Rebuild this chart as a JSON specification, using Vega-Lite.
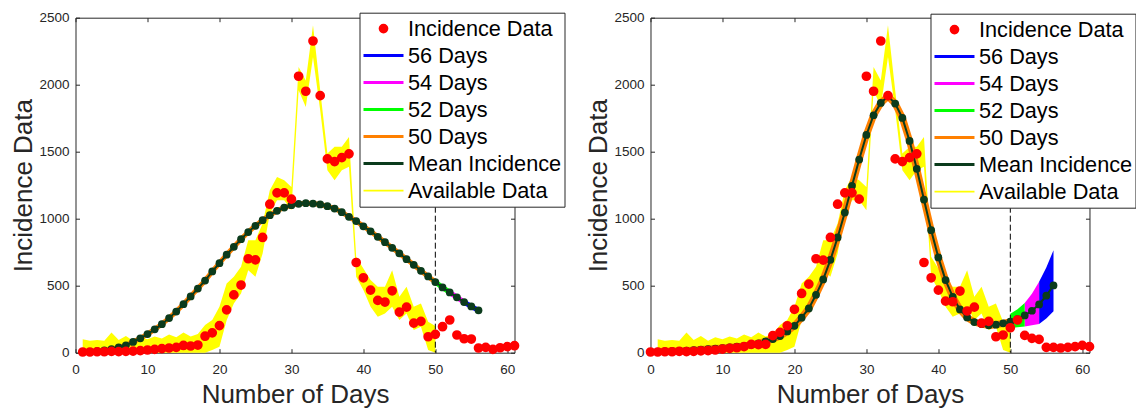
{
  "$schema": "https://vega.github.io/schema/vega-lite/v6.json",
  "autosize": {"type": "pad"},
  "padding": {"left": 9.5, "top": 9.7, "right": 0, "bottom": 0},
  "background": "white",
  "bounds": "flush",
  "spacing": 136,
  "config": {
    "font": "Liberation Sans",
    "view": {"stroke": "#262626", "strokeWidth": 1},
    "axis": {
      "grid": false, "domain": false, "tickSize": -4, "tickColor": "#262626", "tickWidth": 1,
      "labelColor": "#262626", "labelFontSize": 13.5, "labelFont": "Liberation Sans",
      "titleFont": "Liberation Sans", "titleFontSize": 26, "titleFontWeight": "normal", "titleColor": "#262626",
      "labelFlush": false
    }
  },
  "datasets": {
    "redL": [
      {"day":1,"value":5},{"day":2,"value":5},{"day":3,"value":7},{"day":4,"value":7},{"day":5,"value":10},{"day":6,"value":8},{"day":7,"value":10},{"day":8,"value":12},{"day":9,"value":15},{"day":10,"value":20},
      {"day":11,"value":25},{"day":12,"value":30},{"day":13,"value":35},{"day":14,"value":40},{"day":15,"value":54},{"day":16,"value":50},{"day":17,"value":57},{"day":18,"value":123},{"day":19,"value":148},{"day":20,"value":202},
      {"day":21,"value":320},{"day":22,"value":431},{"day":23,"value":505},{"day":24,"value":701},{"day":25,"value":693},{"day":26,"value":860},{"day":27,"value":1108},{"day":28,"value":1193},{"day":29,"value":1193},{"day":30,"value":1146},
      {"day":31,"value":2063},{"day":32,"value":1951},{"day":33,"value":2326},{"day":34,"value":1918},{"day":35,"value":1446},{"day":36,"value":1426},{"day":37,"value":1456},{"day":38,"value":1484},{"day":39,"value":673},{"day":40,"value":559},
      {"day":41,"value":467},{"day":42,"value":390},{"day":43,"value":378},{"day":44,"value":462},{"day":45,"value":303},{"day":46,"value":340},{"day":47,"value":221},{"day":48,"value":234},{"day":49,"value":119},{"day":50,"value":137},
      {"day":51,"value":194},{"day":52,"value":244},{"day":53,"value":132},{"day":54,"value":104},{"day":55,"value":102},{"day":56,"value":35},{"day":57,"value":40},{"day":58,"value":25},{"day":59,"value":37},{"day":60,"value":45},{"day":61,"value":52}
    ],
    "redR": [
      {"day":0,"value":5},{"day":1,"value":5},{"day":2,"value":7},{"day":3,"value":7},{"day":4,"value":10},{"day":5,"value":8},{"day":6,"value":10},{"day":7,"value":14},{"day":8,"value":16},{"day":9,"value":20},
      {"day":10,"value":27},{"day":11,"value":32},{"day":12,"value":37},{"day":13,"value":45},{"day":14,"value":62},{"day":15,"value":60},{"day":16,"value":62},{"day":17,"value":127},{"day":18,"value":152},{"day":19,"value":201},
      {"day":20,"value":323},{"day":21,"value":442},{"day":22,"value":512},{"day":23,"value":701},{"day":24,"value":691},{"day":25,"value":860},{"day":26,"value":1108},{"day":27,"value":1193},{"day":28,"value":1193},{"day":29,"value":1146},
      {"day":30,"value":2063},{"day":31,"value":1951},{"day":32,"value":2326},{"day":33,"value":1918},{"day":34,"value":1446},{"day":35,"value":1426},{"day":36,"value":1456},{"day":37,"value":1484},{"day":38,"value":673},{"day":39,"value":559},
      {"day":40,"value":467},{"day":41,"value":385},{"day":42,"value":380},{"day":43,"value":460},{"day":44,"value":311},{"day":45,"value":340},{"day":46,"value":221},{"day":47,"value":234},{"day":48,"value":119},{"day":49,"value":132},
      {"day":50,"value":186},{"day":51,"value":244},{"day":52,"value":129},{"day":53,"value":107},{"day":54,"value":99},{"day":55,"value":40},{"day":56,"value":40},{"day":57,"value":35},{"day":58,"value":40},{"day":59,"value":45},{"day":60,"value":55},{"day":61,"value":45}
    ],
    "meanL": [
      {"day":1,"value":5},{"day":2,"value":7},{"day":3,"value":12},{"day":4,"value":18},{"day":5,"value":27},{"day":6,"value":40},{"day":7,"value":55},{"day":8,"value":80},{"day":9,"value":107},{"day":10,"value":139},
      {"day":11,"value":174},{"day":12,"value":213},{"day":13,"value":258},{"day":14,"value":307},{"day":15,"value":362},{"day":16,"value":420},{"day":17,"value":479},{"day":18,"value":538},{"day":19,"value":606},{"day":20,"value":668},
      {"day":21,"value":731},{"day":22,"value":790},{"day":23,"value":847},{"day":24,"value":900},{"day":25,"value":947},{"day":26,"value":989},{"day":27,"value":1026},{"day":28,"value":1059},{"day":29,"value":1083},{"day":30,"value":1101},
      {"day":31,"value":1111},{"day":32,"value":1116},{"day":33,"value":1113},{"day":34,"value":1106},{"day":35,"value":1093},{"day":36,"value":1076},{"day":37,"value":1049},{"day":38,"value":1014},{"day":39,"value":982},{"day":40,"value":943},
      {"day":41,"value":906},{"day":42,"value":865},{"day":43,"value":825},{"day":44,"value":783},{"day":45,"value":741},{"day":46,"value":698},{"day":47,"value":656},{"day":48,"value":611},{"day":49,"value":569},{"day":50,"value":527},
      {"day":51,"value":487},{"day":52,"value":450},{"day":53,"value":413},{"day":54,"value":378},{"day":55,"value":345},{"day":56,"value":316}
    ],
    "meanR": [
      {"day":1,"value":8},{"day":2,"value":10},{"day":3,"value":12},{"day":4,"value":14},{"day":5,"value":16},{"day":6,"value":19},{"day":7,"value":23},{"day":8,"value":27},{"day":9,"value":31},{"day":10,"value":35},
      {"day":11,"value":40},{"day":12,"value":45},{"day":13,"value":51},{"day":14,"value":59},{"day":15,"value":70},{"day":16,"value":85},{"day":17,"value":102},{"day":18,"value":124},{"day":19,"value":159},{"day":20,"value":201},
      {"day":21,"value":261},{"day":22,"value":330},{"day":23,"value":432},{"day":24,"value":547},{"day":25,"value":693},{"day":26,"value":860},{"day":27,"value":1046},{"day":28,"value":1245},{"day":29,"value":1441},{"day":30,"value":1625},
      {"day":31,"value":1772},{"day":32,"value":1864},{"day":33,"value":1913},{"day":34,"value":1859},{"day":35,"value":1752},{"day":36,"value":1580},{"day":37,"value":1372},{"day":38,"value":1143},{"day":39,"value":914},{"day":40,"value":711},
      {"day":41,"value":542},{"day":42,"value":417},{"day":43,"value":323},{"day":44,"value":263},{"day":45,"value":229},{"day":46,"value":214},{"day":47,"value":204},{"day":48,"value":209},{"day":49,"value":219},{"day":50,"value":231},
      {"day":51,"value":251},{"day":52,"value":278},{"day":53,"value":313},{"day":54,"value":360},{"day":55,"value":425},{"day":56,"value":502}
    ],
    "yellow": [
      {"day":1,"lo":0,"hi":100},{"day":2,"lo":0,"hi":90},{"day":3,"lo":0,"hi":95},{"day":4,"lo":0,"hi":90},{"day":5,"lo":0,"hi":150},{"day":6,"lo":0,"hi":95},{"day":7,"lo":0,"hi":125},{"day":8,"lo":0,"hi":90},{"day":9,"lo":0,"hi":115},{"day":10,"lo":0,"hi":100},
      {"day":11,"lo":0,"hi":120},{"day":12,"lo":0,"hi":105},{"day":13,"lo":0,"hi":135},{"day":14,"lo":0,"hi":115},{"day":15,"lo":0,"hi":150},{"day":16,"lo":0,"hi":120},{"day":17,"lo":0,"hi":140},{"day":18,"lo":0,"hi":206},{"day":19,"lo":20,"hi":244},{"day":20,"lo":45,"hi":343},
      {"day":21,"lo":243,"hi":517},{"day":22,"lo":368,"hi":567},{"day":23,"lo":442,"hi":641},{"day":24,"lo":616,"hi":840},{"day":25,"lo":566,"hi":840},{"day":26,"lo":740,"hi":964},{"day":27,"lo":1039,"hi":1213},{"day":28,"lo":1138,"hi":1312},{"day":29,"lo":1138,"hi":1287},{"day":30,"lo":1063,"hi":1237},
      {"day":31,"lo":1958,"hi":2132},{"day":32,"lo":1834,"hi":2032},{"day":33,"lo":2207,"hi":2443},{"day":34,"lo":1809,"hi":1958},{"day":35,"lo":1362,"hi":1486},{"day":36,"lo":1287,"hi":1536},{"day":37,"lo":1362,"hi":1536},{"day":38,"lo":1387,"hi":1610},{"day":39,"lo":567,"hi":716},{"day":40,"lo":467,"hi":629},
      {"day":41,"lo":343,"hi":542},{"day":42,"lo":268,"hi":492},{"day":43,"lo":293,"hi":492},{"day":44,"lo":343,"hi":616},{"day":45,"lo":244,"hi":417},{"day":46,"lo":293,"hi":492},{"day":47,"lo":169,"hi":343},{"day":48,"lo":194,"hi":368},{"day":49,"lo":20,"hi":230},{"day":50,"lo":0,"hi":200}
    ],
    "fan52": [{"day":50,"lo":185,"hi":290},{"day":51,"lo":190,"hi":325},{"day":52,"lo":195,"hi":370}],
    "fan54": [{"day":52,"lo":195,"hi":370},{"day":53,"lo":205,"hi":440},{"day":54,"lo":215,"hi":530}],
    "fan56": [{"day":54,"lo":215,"hi":530},{"day":55,"lo":255,"hi":635},{"day":56,"lo":310,"hi":765}],
    "cut": [{"day": 50}]
  },
  "hconcat": [
    {
      "width": 439, "height": 335,
      "resolve": {"axis": {"x": "independent", "y": "independent"}},
      "layer": [
        {
          "data": {"name": "yellow"},
          "mark": {"type": "area", "color": "#ffff00", "opacity": 1},
          "encoding": {
            "x": {"field": "day", "type": "quantitative", "scale": {"domain": [0, 61], "nice": false, "zero": false},
                  "axis": {"orient": "bottom", "values": [0,10,20,30,40,50,60], "title": "Number of Days", "labelPadding": 13.5, "titlePadding": 6}},
            "y": {"field": "lo", "type": "quantitative", "scale": {"domain": [0, 2500], "nice": false},
                  "axis": {"orient": "left", "values": [0,500,1000,1500,2000,2500], "format": "d", "title": "Incidence Data", "labelPadding": 10.5, "titlePadding": 2.5}},
            "y2": {"field": "hi"}
          }
        },
        {
          "data": {"name": "meanL"},
          "transform": [{"filter": "datum.day <= 50"}],
          "mark": {"type": "line", "color": "#ff8000", "strokeWidth": 5},
          "encoding": {
            "x": {"field": "day", "type": "quantitative", "axis": null},
            "y": {"field": "value", "type": "quantitative", "axis": null}
          }
        },
        {
          "data": {"name": "meanL"},
          "transform": [{"filter": "datum.day >= 50 && datum.day <= 52"}],
          "mark": {"type": "line", "color": "#00ff00", "strokeWidth": 5},
          "encoding": {
            "x": {"field": "day", "type": "quantitative", "axis": null},
            "y": {"field": "value", "type": "quantitative", "axis": null}
          }
        },
        {
          "data": {"name": "meanL"},
          "transform": [{"filter": "datum.day >= 52 && datum.day <= 54"}],
          "mark": {"type": "line", "color": "#ff00ff", "strokeWidth": 5},
          "encoding": {
            "x": {"field": "day", "type": "quantitative", "axis": null},
            "y": {"field": "value", "type": "quantitative", "axis": null}
          }
        },
        {
          "data": {"name": "meanL"},
          "transform": [{"filter": "datum.day >= 54"}],
          "mark": {"type": "line", "color": "#0000ff", "strokeWidth": 5},
          "encoding": {
            "x": {"field": "day", "type": "quantitative", "axis": null},
            "y": {"field": "value", "type": "quantitative", "axis": null}
          }
        },
        {
          "data": {"name": "cut"},
          "mark": {"type": "rule", "color": "#000000", "strokeWidth": 1, "strokeDash": [6, 3]},
          "encoding": {
            "x": {"field": "day", "type": "quantitative",
                  "axis": {"orient": "top", "values": [0,10,20,30,40,50,60], "labels": false, "title": null}}
          }
        },
        {
          "data": {"name": "meanL"},
          "mark": {"type": "line", "color": "#0b3b1c", "strokeWidth": 2},
          "encoding": {
            "x": {"field": "day", "type": "quantitative", "axis": null},
            "y": {"field": "value", "type": "quantitative", "axis": null}
          }
        },
        {
          "data": {"name": "meanL"},
          "mark": {"type": "circle", "color": "#0b3b1c", "size": 60, "opacity": 1},
          "encoding": {
            "x": {"field": "day", "type": "quantitative", "axis": null},
            "y": {"field": "value", "type": "quantitative", "axis": null}
          }
        },
        {
          "data": {"name": "redL"},
          "mark": {"type": "point", "filled": false, "fill": "#ff0000", "opacity": 1},
          "encoding": {
            "x": {"field": "day", "type": "quantitative", "axis": null},
            "y": {"field": "value", "type": "quantitative",
                  "axis": {"orient": "right", "values": [0,500,1000,1500,2000,2500], "labels": false, "title": null}},
            "color": {"datum": "Incidence Data", "type": "nominal", "title": null,
                      "scale": {"domain": ["Incidence Data","56 Days","54 Days","52 Days","50 Days","Mean Incidence","Available Data"], "range": ["#ff0000","#0000ff","#ff00ff","#00ff00","#ff8000","#0b3b1c","#ffff00"]},
                      "legend": {
                        "orient": "none", "legendX": 284, "legendY": -5, "title": null,
                        "clipHeight": 26.8, "rowPadding": 0,
                        "labelFont": "Liberation Sans", "labelFontSize": 21.7, "labelColor": "#000000", "labelOffset": 3, "labelLimit": 400,
                        "padding": 2.5, "fillColor": "#ffffff", "strokeColor": "#262626", "zindex": 1, "symbolOpacity": 1
                      }},
            "shape": {"datum": "Incidence Data", "type": "nominal", "title": null,
                      "scale": {"domain": ["Incidence Data","56 Days","54 Days","52 Days","50 Days","Mean Incidence","Available Data"], "range": ["circle","stroke","stroke","stroke","stroke","stroke","stroke"]}},
            "size": {"datum": "Incidence Data", "type": "nominal", "title": null,
                     "scale": {"type": "ordinal", "domain": ["Incidence Data","56 Days","54 Days","52 Days","50 Days","Mean Incidence","Available Data"], "range": [45,1600,1600,1600,1600,1600,1600]}},
            "strokeWidth": {"datum": "Incidence Data", "type": "nominal", "title": null,
                     "scale": {"type": "ordinal", "domain": ["Incidence Data","56 Days","54 Days","52 Days","50 Days","Mean Incidence","Available Data"], "range": [3,3,3,3,3,3,1.8]}}
          }
        }
      ]
    },
    {
      "width": 439, "height": 335,
      "resolve": {"axis": {"x": "independent", "y": "independent"}},
      "layer": [
        {
          "data": {"name": "yellow"},
          "mark": {"type": "area", "color": "#ffff00", "opacity": 1},
          "encoding": {
            "x": {"field": "day", "type": "quantitative", "scale": {"domain": [0, 61], "nice": false, "zero": false},
                  "axis": {"orient": "bottom", "values": [0,10,20,30,40,50,60], "title": "Number of Days", "labelPadding": 13.5, "titlePadding": 6}},
            "y": {"field": "lo", "type": "quantitative", "scale": {"domain": [0, 2500], "nice": false},
                  "axis": {"orient": "left", "values": [0,500,1000,1500,2000,2500], "format": "d", "title": "Incidence Data", "labelPadding": 10.5, "titlePadding": 2.5}},
            "y2": {"field": "hi"}
          }
        },
        {
          "data": {"name": "fan56"},
          "mark": {"type": "area", "color": "#0000ff", "opacity": 1},
          "encoding": {
            "x": {"field": "day", "type": "quantitative", "axis": null},
            "y": {"field": "lo", "type": "quantitative", "axis": null},
            "y2": {"field": "hi"}
          }
        },
        {
          "data": {"name": "fan54"},
          "mark": {"type": "area", "color": "#ff00ff", "opacity": 1},
          "encoding": {
            "x": {"field": "day", "type": "quantitative", "axis": null},
            "y": {"field": "lo", "type": "quantitative", "axis": null},
            "y2": {"field": "hi"}
          }
        },
        {
          "data": {"name": "fan52"},
          "mark": {"type": "area", "color": "#00ff00", "opacity": 1},
          "encoding": {
            "x": {"field": "day", "type": "quantitative", "axis": null},
            "y": {"field": "lo", "type": "quantitative", "axis": null},
            "y2": {"field": "hi"}
          }
        },
        {
          "data": {"name": "meanR"},
          "transform": [{"filter": "datum.day <= 50"}],
          "mark": {"type": "line", "color": "#ff8000", "strokeWidth": 7},
          "encoding": {
            "x": {"field": "day", "type": "quantitative", "axis": null},
            "y": {"field": "value", "type": "quantitative", "axis": null}
          }
        },
        {
          "data": {"name": "cut"},
          "mark": {"type": "rule", "color": "#000000", "strokeWidth": 1, "strokeDash": [6, 3]},
          "encoding": {
            "x": {"field": "day", "type": "quantitative",
                  "axis": {"orient": "top", "values": [0,10,20,30,40,50,60], "labels": false, "title": null}}
          }
        },
        {
          "data": {"name": "meanR"},
          "mark": {"type": "line", "color": "#0b3b1c", "strokeWidth": 2},
          "encoding": {
            "x": {"field": "day", "type": "quantitative", "axis": null},
            "y": {"field": "value", "type": "quantitative", "axis": null}
          }
        },
        {
          "data": {"name": "meanR"},
          "mark": {"type": "circle", "color": "#0b3b1c", "size": 60, "opacity": 1},
          "encoding": {
            "x": {"field": "day", "type": "quantitative", "axis": null},
            "y": {"field": "value", "type": "quantitative", "axis": null}
          }
        },
        {
          "data": {"name": "redR"},
          "mark": {"type": "point", "filled": false, "fill": "#ff0000", "opacity": 1},
          "encoding": {
            "x": {"field": "day", "type": "quantitative", "axis": null},
            "y": {"field": "value", "type": "quantitative",
                  "axis": {"orient": "right", "values": [0,500,1000,1500,2000,2500], "labels": false, "title": null}},
            "color": {"datum": "Incidence Data", "type": "nominal", "title": null,
                      "scale": {"domain": ["Incidence Data","56 Days","54 Days","52 Days","50 Days","Mean Incidence","Available Data"], "range": ["#ff0000","#0000ff","#ff00ff","#00ff00","#ff8000","#0b3b1c","#ffff00"]},
                      "legend": {
                        "orient": "none", "legendX": 280, "legendY": -4, "title": null,
                        "clipHeight": 26.8, "rowPadding": 0,
                        "labelFont": "Liberation Sans", "labelFontSize": 21.7, "labelColor": "#000000", "labelOffset": 3, "labelLimit": 400,
                        "padding": 2.5, "fillColor": "#ffffff", "strokeColor": "#262626", "zindex": 1, "symbolOpacity": 1
                      }},
            "shape": {"datum": "Incidence Data", "type": "nominal", "title": null,
                      "scale": {"domain": ["Incidence Data","56 Days","54 Days","52 Days","50 Days","Mean Incidence","Available Data"], "range": ["circle","stroke","stroke","stroke","stroke","stroke","stroke"]}},
            "size": {"datum": "Incidence Data", "type": "nominal", "title": null,
                     "scale": {"type": "ordinal", "domain": ["Incidence Data","56 Days","54 Days","52 Days","50 Days","Mean Incidence","Available Data"], "range": [45,1600,1600,1600,1600,1600,1600]}},
            "strokeWidth": {"datum": "Incidence Data", "type": "nominal", "title": null,
                     "scale": {"type": "ordinal", "domain": ["Incidence Data","56 Days","54 Days","52 Days","50 Days","Mean Incidence","Available Data"], "range": [3,3,3,3,3,3,1.8]}}
          }
        }
      ]
    }
  ],
  "resolve": {
    "scale": {"color": "independent", "shape": "independent", "size": "independent", "strokeWidth": "independent"},
    "legend": {"color": "independent", "shape": "independent", "size": "independent", "strokeWidth": "independent"}
  }
}
